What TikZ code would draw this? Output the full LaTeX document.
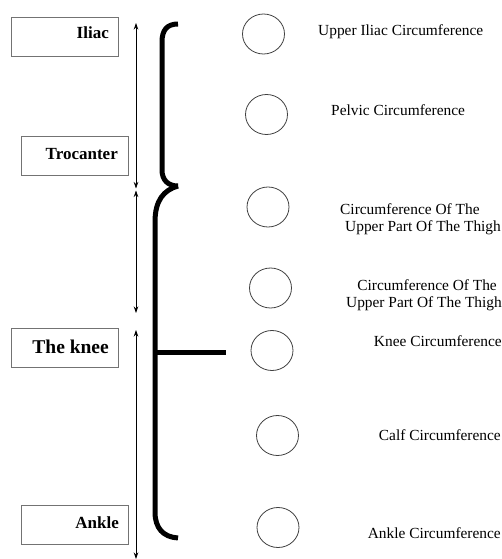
\documentclass[tikz,border=0pt]{standalone}
\usepackage{fontspec}
\setmainfont{Liberation Serif}
\usetikzlibrary{arrows.meta,shapes.geometric}
\begin{document}
\begin{tikzpicture}[x=1pt,y=-1pt,
  lbox/.style={draw=black!55,line width=0.9pt,minimum width=107pt,minimum height=39pt,inner sep=0pt},
  ltext/.style={font=\fontsize{17}{19}\selectfont\bfseries,anchor=east,inner sep=0pt},
  circ/.style={draw=black!75,line width=0.8pt,ellipse,minimum width=42pt,minimum height=40pt,inner sep=0pt},
  rtext/.style={font=\fontsize{15.4}{17}\selectfont,inner sep=0pt},
  brace/.style={line width=5pt,line join=round},
  dim/.style={line width=0.7pt,{Stealth[length=6.5pt,width=4.5pt]}-{Stealth[length=6.5pt,width=4.5pt]}}]
\useasboundingbox (0,0) rectangle (502,559);
% left boxes
\node[lbox] (iliacbox) at (64.5,36.5) {};
\node[ltext] (iliac) at (109,33) {Iliac};
\node[lbox] (trocbox) at (74.5,155.5) {};
\node[ltext] (troc) at (118,154) {Trocanter};
\node[lbox] (kneebox) at (64.5,348) {};
\node[ltext,font=\fontsize{19.5}{21}\selectfont\bfseries] (knee) at (109,347) {The knee};
\node[lbox] (anklebox) at (74.5,524.5) {};
\node[ltext] (ankle) at (119,523) {Ankle};
% dimension arrows
\coordinate (a1) at (136,23);
\coordinate (a2) at (136,188.5);
\coordinate (b1) at (136,190.5);
\coordinate (b2) at (136,313);
\coordinate (c1) at (136,330);
\coordinate (c2) at (136,559);
\draw[dim] (a1) -- (a2);
\draw[dim] (b1) -- (b2);
\draw[dim] (c1) -- (c2);
% braces
\coordinate (btop) at (178,24);
\coordinate (bmid) at (178,186);
\coordinate (bbot) at (178,538);
\draw[brace] (btop) .. controls (167,24) and (162,30) .. (162,42) -- (162,170) .. controls (162,180) and (168,186) .. (bmid);
\draw[brace] (bmid) .. controls (164,190) and (155,200) .. (155,222) -- (155,512) .. controls (155,528) and (163,537) .. (bbot);
\coordinate (hl) at (155,352);
\coordinate (hr) at (226,352);
\draw[line width=5pt] (hl) -- (hr);
% circles
\node[circ] (c1n) at (263.5,34) {};
\node[circ] (c2n) at (266.5,114.5) {};
\node[circ] (c3n) at (268,207) {};
\node[circ] (c4n) at (270.5,288) {};
\node[circ] (c5n) at (272,350.5) {};
\node[circ] (c6n) at (277.5,435.5) {};
\node[circ] (c7n) at (278,527.5) {};
% right texts
\node[rtext,anchor=west] (t1) at (318,32) {Upper Iliac Circumference};
\node[rtext,anchor=west] (t2) at (331,110) {Pelvic Circumference};
\node[rtext,anchor=west,align=left] (t3) at (340,219) {Circumference Of The\\\hspace*{5pt}Upper Part Of The Thigh};
\node[rtext,anchor=east,align=right] (t4) at (502,295) {Circumference Of The\hspace*{5pt}\\Upper Part Of The Thigh};
\node[rtext,anchor=east] (t5) at (502,341) {Knee Circumference};
\node[rtext,anchor=east] (t6) at (501,435) {Calf Circumference};
\node[rtext,anchor=east] (t7) at (501,533) {Ankle Circumference};
\end{tikzpicture}
\end{document}
